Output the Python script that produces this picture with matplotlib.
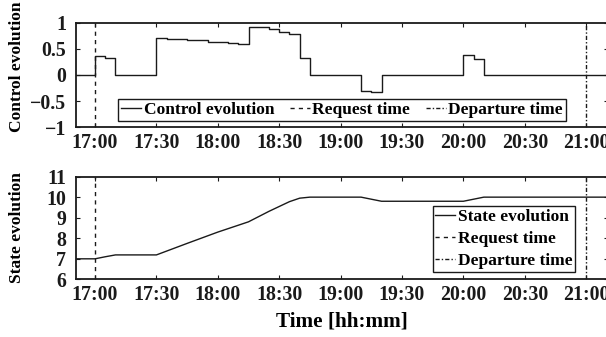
import matplotlib
matplotlib.use('Agg')
import matplotlib.pyplot as plt

plt.rcParams['font.family'] = ['Liberation Serif', 'DejaVu Serif']
plt.rcParams['font.weight'] = 'bold'

# control (step, value held until next time)
ctrl_times = ["16:50", "17:00", "17:05", "17:10", "17:30", "17:35", "17:45", "17:55",
              "18:05", "18:10", "18:15", "18:25", "18:30", "18:35", "18:40", "18:45",
              "19:10", "19:15", "19:20", "20:00", "20:05", "20:10", "21:10"]
ctrl_vals = [0, 0.36, 0.33, 0, 0.71, 0.69, 0.67, 0.64,
             0.61, 0.59, 0.93, 0.89, 0.83, 0.78, 0.32, 0,
             -0.31, -0.33, 0, 0.39, 0.31, 0, 0]

# state (piecewise linear)
state_times = ["16:50", "17:00", "17:05", "17:10", "17:30", "17:45", "18:00", "18:15",
               "18:25", "18:35", "18:40", "18:45", "19:10", "19:15", "19:20", "20:00",
               "20:05", "20:10", "21:10"]
state_vals = [7.0, 7.0, 7.1, 7.19, 7.19, 7.75, 8.30, 8.80,
              9.31, 9.78, 9.95, 10.0, 10.0, 9.9, 9.8, 9.8,
              9.9, 10.0, 10.0]

request_time = "17:00"
departure_time = "21:00"
xtick_labels = ["17:00", "17:30", "18:00", "18:30", "19:00", "19:30", "20:00", "20:30", "21:00"]
ctrl_yticks = [-1, -0.5, 0, 0.5, 1]
ctrl_ylabels = ["\u22121", "\u22120.5", "0", "0.5", "1"]
state_yticks = [6, 7, 8, 9, 10, 11]


def to_min(s):
    h, m = s.split(":")
    return int(h) * 60 + int(m) - 17 * 60


col = '#1a1a1a'
fig = plt.figure(figsize=(6.06, 3.37), dpi=100)
ax1 = fig.add_axes([0.1254, 0.623, 0.878, 0.309])
ax2 = fig.add_axes([0.1254, 0.171, 0.878, 0.305])

xlim = (-9.3, 250.7)
req = to_min(request_time)
dep = to_min(departure_time)
req_ls = (0, (3, 3))
dep_ls = (0, (3, 1.5, 1, 1.5))

leg_kw = dict(fontsize=12.5, frameon=True, fancybox=False, edgecolor=col,
              handlelength=1.15, handletextpad=0.15, borderpad=0.15,
              borderaxespad=0, framealpha=1)

ax1.step([to_min(t) for t in ctrl_times], ctrl_vals, where='post', color=col, lw=1.0,
         label='Control evolution')
ax1.axvline(req, color=col, lw=1.0, ls=req_ls, label='Request time')
ax1.axvline(dep, color=col, lw=1.0, ls=dep_ls, label='Departure time')
ax1.set_ylim(-1, 1)
ax1.set_yticks(ctrl_yticks)
ax1.set_yticklabels(ctrl_ylabels)
ax1.set_ylabel('Control evolution', fontsize=12.5, fontweight='bold')
ax1.yaxis.set_label_coords(-0.096, 0.58)
ax1.legend(loc='lower center', bbox_to_anchor=(0.5, 0.06), ncol=3,
           columnspacing=0.9, **leg_kw)

ax2.plot([to_min(t) for t in state_times], state_vals, color=col, lw=1.0,
         label='State evolution')
ax2.axvline(req, color=col, lw=1.0, ls=req_ls, label='Request time')
ax2.axvline(dep, color=col, lw=1.0, ls=dep_ls, label='Departure time')
ax2.set_ylim(6, 11)
ax2.set_yticks(state_yticks)
ax2.set_ylabel('State evolution', fontsize=12.5, fontweight='bold')
ax2.yaxis.set_label_coords(-0.096, 0.5)
ax2.set_xlabel('Time [hh:mm]', fontsize=15.3, fontweight='bold', labelpad=5)
ax2.legend(loc='lower right', bbox_to_anchor=(0.938, 0.074), labelspacing=0.35, **leg_kw)

for ax in (ax1, ax2):
    ax.set_xlim(*xlim)
    ax.set_xticks([to_min(t) for t in xtick_labels])
    ax.set_xticklabels(xtick_labels)
    ax.tick_params(direction='in', top=True, right=True, length=3, width=0.8,
                   labelsize=14.3, colors=col)
    ax.tick_params(axis='x', pad=4)
    ax.tick_params(axis='y', pad=7)
    for lab in ax.get_xticklabels() + ax.get_yticklabels():
        lab.set_fontweight('bold')
    for sp in ax.spines.values():
        sp.set_linewidth(1.3)
        sp.set_color(col)

fig.savefig('out.png', dpi=100)
